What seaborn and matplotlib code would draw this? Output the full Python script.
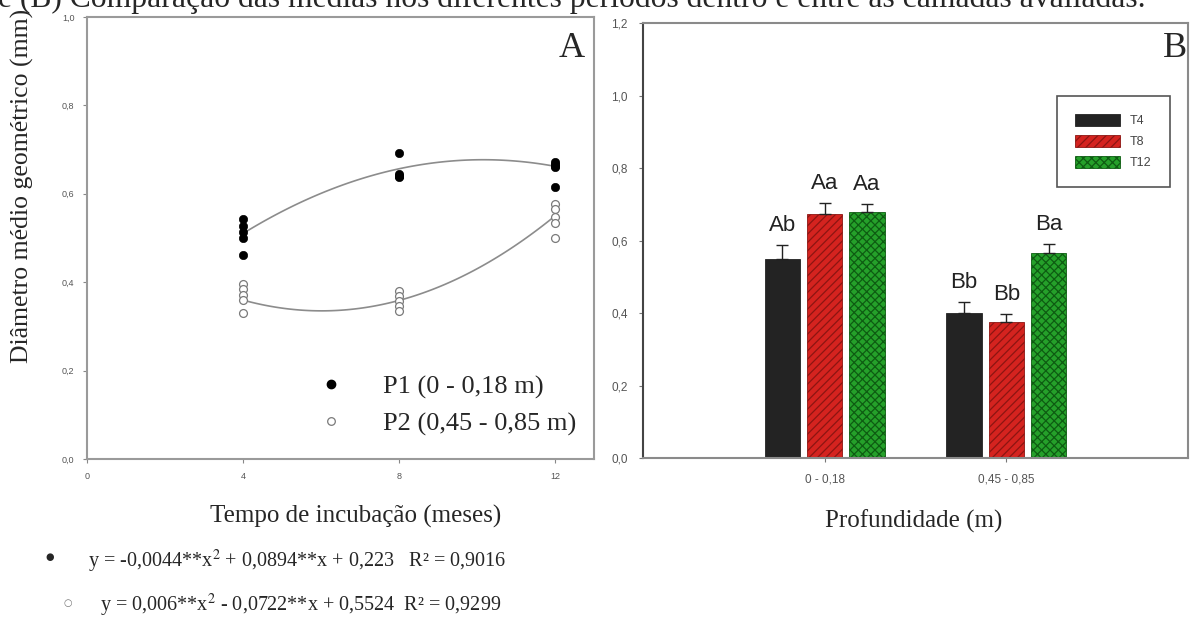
import numpy as np
import pandas as pd
import matplotlib
matplotlib.use('Agg')
import matplotlib.pyplot as plt
from matplotlib.patches import Patch
from matplotlib.lines import Line2D
from matplotlib.ticker import FuncFormatter
import seaborn as sns

# Painel A - diametro medio geometrico por tempo de incubacao
tempo = [4, 4, 4, 4, 4, 8, 8, 8, 8, 8, 12, 12, 12, 12, 12]
dmg_p1 = [0.542, 0.527, 0.513, 0.500, 0.462,
          0.693, 0.645, 0.640, 0.637, 0.640,
          0.672, 0.668, 0.664, 0.660, 0.615]
dmg_p2 = [0.395, 0.384, 0.371, 0.360, 0.330,
          0.381, 0.369, 0.358, 0.346, 0.335,
          0.578, 0.565, 0.548, 0.535, 0.500]
coef_p1 = [-0.0044, 0.0894, 0.223]
coef_p2 = [0.006, -0.0722, 0.5524]
rotulos_a = ['P1 (0 - 0,18 m)', 'P2 (0,45 - 0,85 m)']

# Painel B - medias por profundidade e periodo
profundidade = ['0 - 0,18'] * 3 + ['0,45 - 0,85'] * 3
periodo = ['T4', 'T8', 'T12', 'T4', 'T8', 'T12']
media = [0.548, 0.673, 0.678, 0.399, 0.376, 0.566]
erro = [0.040, 0.031, 0.022, 0.032, 0.020, 0.023]
letras = ['Ab', 'Aa', 'Aa', 'Bb', 'Bb', 'Ba']

cores = {'T4': '#232323', 'T8': '#d4231f', 'T12': '#25a02a'}
hatch_cor = {'T4': '#232323', 'T8': '#8c1512', 'T12': '#0e5c12'}
hatches = {'T4': '', 'T8': '////', 'T12': 'xxxx'}

sns.set_style('white')
plt.rcParams['font.family'] = ['Liberation Serif', 'DejaVu Serif']
plt.rcParams['mathtext.fontset'] = 'stix'
plt.rcParams['hatch.linewidth'] = 0.9

fig = plt.figure(figsize=(11.9, 6.32), dpi=100)
ax1 = fig.add_axes([0.0731, 0.2737, 0.4261, 0.6994])
ax2 = fig.add_axes([0.5403, 0.2753, 0.4580, 0.6883])

fmt = FuncFormatter(lambda v, p: f'{v:.1f}'.replace('.', ','))

# ---------- Painel A ----------
x_fit = np.linspace(4, 12, 100)
sns.lineplot(x=x_fit, y=np.polyval(coef_p1, x_fit), color='#8c8c8c', lw=1.2, ax=ax1, zorder=1)
sns.lineplot(x=x_fit, y=np.polyval(coef_p2, x_fit), color='#8c8c8c', lw=1.2, ax=ax1, zorder=1)
sns.scatterplot(x=tempo, y=dmg_p1, color='black', edgecolor='black', s=36, ax=ax1, zorder=3)
sns.scatterplot(x=tempo, y=dmg_p2, color='white', edgecolor='#7a7a7a', linewidth=0.9, s=32, ax=ax1, zorder=3)

ax1.set_xlim(0, 13)
ax1.set_ylim(0, 1.0)
ax1.set_xticks([0, 4, 8, 12])
ax1.set_yticks([0, 0.2, 0.4, 0.6, 0.8, 1.0])
ax1.yaxis.set_major_formatter(fmt)
ax1.tick_params(bottom=True, left=True, length=3, width=0.8, color='#888888',
                labelsize=6.5, labelcolor='#555555', pad=6)
for lab in ax1.get_xticklabels() + ax1.get_yticklabels():
    lab.set_family('Liberation Sans')
for sp in ax1.spines.values():
    sp.set_color('#9a9a9a')
    sp.set_linewidth(1.5)

handles_a = [Line2D([], [], ls='none', marker='o', ms=6, mfc='black', mec='black'),
             Line2D([], [], ls='none', marker='o', ms=5.5, mfc='white', mec='#7a7a7a', mew=0.9)]
ax1.legend(handles_a, rotulos_a, loc='lower left', bbox_to_anchor=(0.432, 0.022),
           frameon=False, fontsize=19, handlelength=0.9, handletextpad=1.5,
           labelspacing=0.5, borderpad=0)
ax1.text(0.982, 0.9095, 'A', transform=ax1.transAxes, ha='right', va='baseline', fontsize=26)

fig.text(22 / 1190, 1 - 186 / 632, 'Diâmetro médio geométrico (mm)', rotation=90,
         ha='center', va='center', fontsize=18.5)
fig.text(356 / 1190, 1 - 523 / 632, 'Tempo de incubação (meses)', ha='center',
         va='baseline', fontsize=18)

# ---------- Painel B ----------
df_b = pd.DataFrame({'profundidade': profundidade, 'periodo': periodo, 'media': media})
sns.barplot(data=df_b, x='profundidade', y='media', hue='periodo', palette=cores,
            width=0.7, gap=0.17, errorbar=None, saturation=1, legend=False, ax=ax2)

ordem = ['T4', 'T8', 'T12']
for i, p in enumerate(ax2.patches):
    t = ordem[i // 2]
    k = (i % 2) * 3 + i // 2
    p.set_hatch(hatches[t])
    p.set_edgecolor(hatch_cor[t])
    p.set_linewidth(0.6)
    xc = p.get_x() + p.get_width() / 2
    ax2.errorbar(xc, media[k], yerr=[[0], [erro[k]]], fmt='none', ecolor='#222222',
                 elinewidth=1.0, capsize=4, capthick=1.0, zorder=4)
    ax2.text(xc, media[k] + erro[k] + 0.025, letras[k], ha='center', va='bottom',
             family='Liberation Sans', fontsize=16, color='#222222')

ax2.set_xlim(-1, 2)
ax2.set_ylim(0, 1.2)
ax2.set_yticks([0, 0.2, 0.4, 0.6, 0.8, 1.0, 1.2])
ax2.yaxis.set_major_formatter(fmt)
ax2.set_xlabel('')
ax2.set_ylabel('')
ax2.tick_params(bottom=True, left=True, length=3, width=0.8, color='#777777',
                labelsize=8.5, labelcolor='#555555', pad=8)
for lab in ax2.get_xticklabels() + ax2.get_yticklabels():
    lab.set_family('Liberation Sans')
for sp in ax2.spines.values():
    sp.set_color('#8a8a8a')
    sp.set_linewidth(1.5)
ax2.spines['left'].set_color('#444444')

handles_b = [Patch(facecolor=cores[t], edgecolor=hatch_cor[t], hatch=hatches[t], lw=0.6) for t in ordem]
leg = ax2.legend(handles_b, ordem, loc='upper right', bbox_to_anchor=(0.978, 0.846),
                 fontsize=9, handlelength=3.6, handleheight=1.0, labelspacing=0.65,
                 handletextpad=0.8, borderpad=1.45, fancybox=False, framealpha=1)
leg.get_frame().set_edgecolor('#555555')
leg.get_frame().set_linewidth(1.2)
for t in leg.get_texts():
    t.set_family('Liberation Sans')
    t.set_color('#444444')
ax2.text(0.998, 0.922, 'B', transform=ax2.transAxes, ha='right', va='baseline', fontsize=26)

fig.text(914 / 1190, 1 - 528 / 632, 'Profundidade (m)', ha='center', va='baseline', fontsize=18)

# ---------- texto de fora ----------
fig.text(-0.002, 1 - 7 / 632,
         'e (B) Comparação das médias nos diferentes períodos dentro e entre as camadas avaliadas.',
         ha='left', va='baseline', fontsize=22.8)
fig.text(50 / 1190, 1 - 557 / 632, '●', family='DejaVu Sans', ha='center', va='center', fontsize=7)
fig.text(68 / 1190, 1 - 603 / 632, '○', family='DejaVu Sans', ha='center', va='center',
         fontsize=7, color='#777777')
fig.text(88 / 1190, 1 - 567 / 632,
         r'y = -0,0044**x$^2$ + 0,0894**x + 0,223   R² = 0,9016',
         ha='left', va='baseline', fontsize=14.5)
fig.text(100 / 1190, 1 - 611 / 632,
         r'y = 0,006**x$^2$ - 0,0722**x + 0,5524  R² = 0,9299',
         ha='left', va='baseline', fontsize=14.5)

fig.savefig('out.png', dpi=100)
